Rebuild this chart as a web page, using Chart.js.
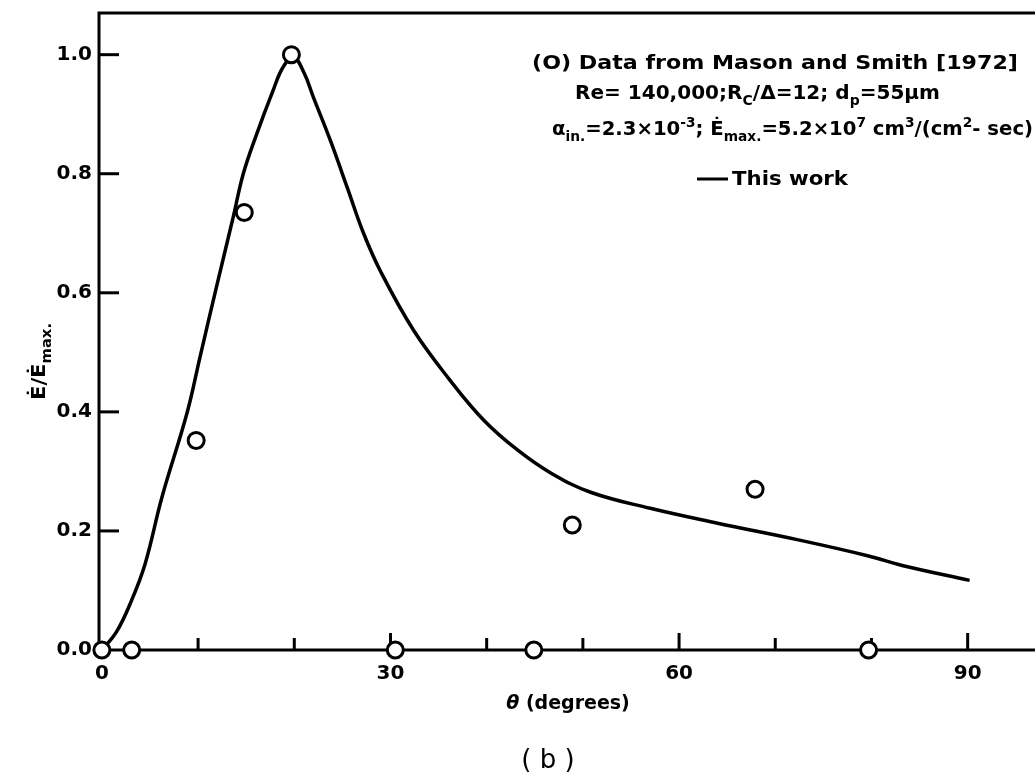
<!DOCTYPE html>
<html>
<head>
<meta charset="utf-8">
<script src="https://cdn.jsdelivr.net/npm/chart.js@4.4.1/dist/chart.umd.min.js"></script>
<style>html,body{margin:0;background:#fff}canvas{display:block}</style>
</head>
<body>
<canvas id="c" width="1035" height="776"></canvas>
<script>
// model curve ("This work")
const curveTheta = [0, 1.5, 3.0, 4.5, 6.25, 8.85, 10.2, 12.0, 13.65, 14.7, 16.1, 17.8, 18.8, 19.9, 21.0, 22.0, 23.75, 25.5, 27.2, 29.0, 32.4, 36.1, 39.7, 43.2, 46.7, 50.8, 57.0, 64.0, 72.4, 79.7, 83.2, 90.2];
const curveE     = [0, 0.03, 0.08, 0.145, 0.257, 0.398, 0.492, 0.616, 0.727, 0.80, 0.867, 0.94, 0.978, 0.996, 0.97, 0.928, 0.856, 0.777, 0.70, 0.635, 0.537, 0.455, 0.386, 0.336, 0.297, 0.265, 0.238, 0.213, 0.185, 0.158, 0.142, 0.117];

// Mason and Smith [1972] data
const dataTheta = [0, 3.1, 9.8, 14.8, 19.7, 30.5, 44.9, 48.9, 67.9, 79.7];
const dataE     = [0, 0, 0.352, 0.735, 1.0, 0, 0, 0.21, 0.27, 0];

const xTicks = [0, 10, 20, 30, 40, 50, 60, 70, 80, 90];
const xLabels = [0, 30, 60, 90];
const yTicks = [0, 0.2, 0.4, 0.6, 0.8, 1.0];
const xMin = -0.3, xMax = 97, yMax = 1.07;

const FONT = '"DejaVu Sans", sans-serif';

// draws runs of text with sub/superscripts, optionally squeezed to a width
function richText(ctx, x, y, runs, size, targetW) {
  const small = Math.round(size * 0.72);
  const fontFor = m => 'bold ' + (m ? small : size) + 'px ' + FONT;
  let total = 0;
  runs.forEach(([t, m]) => { ctx.font = fontFor(m); total += ctx.measureText(t).width; });
  const k = targetW ? targetW / total : 1;
  ctx.save();
  ctx.translate(x, y);
  ctx.scale(k, 1);
  let cx = 0;
  runs.forEach(([t, m]) => {
    ctx.font = fontFor(m);
    const dy = m === 'sub' ? size * 0.3 : m === 'sup' ? -size * 0.42 : 0;
    ctx.fillText(t, cx, dy);
    cx += ctx.measureText(t).width;
  });
  ctx.restore();
}

// no label overflow padding: the plot frame runs to the canvas edge like the scan
function noPad(s) {
  s.paddingTop = s.paddingBottom = s.paddingLeft = s.paddingRight = 0;
}

const framePlugin = {
  id: 'frame',
  beforeDatasetsDraw(chart) {
    const {ctx, chartArea: a, scales: {x, y}} = chart;
    ctx.save();
    ctx.strokeStyle = '#000';
    ctx.lineWidth = 3;
    ctx.beginPath();
    ctx.moveTo(a.right, a.top);
    ctx.lineTo(a.left, a.top);
    ctx.lineTo(a.left, a.bottom);
    ctx.lineTo(a.right, a.bottom);
    ctx.stroke();
    xTicks.forEach(v => {
      if (v === 0) return;
      const px = x.getPixelForValue(v);
      const len = xLabels.includes(v) ? 17 : 12;
      ctx.beginPath(); ctx.moveTo(px, a.bottom); ctx.lineTo(px, a.bottom - len); ctx.stroke();
    });
    yTicks.forEach(v => {
      if (v === 0) return;
      const py = y.getPixelForValue(v);
      ctx.beginPath(); ctx.moveTo(a.left, py); ctx.lineTo(a.left + 20, py); ctx.stroke();
    });
    ctx.restore();
  },
  afterDraw(chart) {
    const ctx = chart.ctx;
    ctx.save();
    ctx.fillStyle = '#000';
    ctx.textBaseline = 'alphabetic';

    // legend block
    richText(ctx, 532, 69, [['(O) Data from Mason and Smith [1972]', '']], 20, 486);
    richText(ctx, 575, 99, [['Re= 140,000;R', ''], ['C', 'sub'], ['/\u0394=12; d', ''], ['p', 'sub'], ['=55\u03bcm', '']], 20, 365);
    richText(ctx, 552, 135, [['\u03b1', ''], ['in.', 'sub'], ['=2.3\u00d710', ''], ['-3', 'sup'], ['; \u0116', ''], ['max.', 'sub'],
      ['=5.2\u00d710', ''], ['7', 'sup'], [' cm', ''], ['3', 'sup'], ['/(cm', ''], ['2', 'sup'], ['- sec)', '']], 20, 481);
    ctx.lineWidth = 3;
    ctx.beginPath(); ctx.moveTo(697, 179); ctx.lineTo(728, 179); ctx.stroke();
    richText(ctx, 732, 185, [['This work', '']], 20, 116);

    // y title
    ctx.save();
    ctx.translate(45, 400);
    ctx.rotate(-Math.PI / 2);
    richText(ctx, 0, 0, [['\u0116/\u0116', ''], ['max.', 'sub']], 20, 77);
    ctx.restore();

    // x title
    ctx.font = 'bold italic 19px ' + FONT;
    const th = '\u03b8';
    const thW = ctx.measureText(th).width;
    ctx.font = 'bold 19px ' + FONT;
    const rest = ' (degrees)';
    const rW = ctx.measureText(rest).width;
    let sx = 568 - (thW + rW) / 2;
    ctx.font = 'bold italic 19px ' + FONT;
    ctx.fillText(th, sx, 709);
    ctx.font = 'bold 19px ' + FONT;
    ctx.fillText(rest, sx + thW, 709);

    // panel caption
    ctx.font = '26px ' + FONT;
    ctx.textAlign = 'center';
    ctx.fillText('( b )', 548, 768);
    ctx.restore();
  }
};

new Chart(document.getElementById('c'), {
  type: 'scatter',
  data: {
    datasets: [
      {
        type: 'scatter',
        data: dataTheta.map((t, i) => ({x: t, y: dataE[i]})),
        pointRadius: 8,
        pointBorderWidth: 3,
        pointBorderColor: '#000',
        pointBackgroundColor: '#fff',
        clip: false,
        order: 0
      },
      {
        type: 'line',
        data: curveTheta.map((t, i) => ({x: t, y: curveE[i]})),
        borderColor: '#000',
        borderWidth: 3.5,
        pointRadius: 0,
        fill: false,
        tension: 0.4,
        order: 1
      }
    ]
  },
  options: {
    responsive: false,
    animation: false,
    layout: {autoPadding: false, padding: {top: 13, right: 0, left: 0, bottom: 0}},
    plugins: {legend: {display: false}, tooltip: {enabled: false}},
    scales: {
      x: {
        type: 'linear', min: xMin, max: xMax,
        grid: {display: false, drawTicks: false},
        border: {display: false},
        afterBuildTicks: s => { s.ticks = xTicks.map(v => ({value: v})); },
        afterFit: s => { s.height = 126; noPad(s); },
        ticks: {
          callback: v => xLabels.includes(v) ? String(v) : '',
          padding: 12, color: '#000', maxRotation: 0, autoSkip: false,
          font: {family: FONT, size: 20, weight: 'bold'}
        }
      },
      y: {
        type: 'linear', min: 0, max: yMax,
        grid: {display: false, drawTicks: false},
        border: {display: false},
        afterBuildTicks: s => { s.ticks = yTicks.map(v => ({value: v})); },
        afterFit: s => { s.width = 99; noPad(s); },
        ticks: {
          callback: v => v.toFixed(1),
          padding: 7, color: '#000',
          font: {family: FONT, size: 20, weight: 'bold'}
        }
      }
    }
  },
  plugins: [framePlugin]
});
</script>
</body>
</html>
